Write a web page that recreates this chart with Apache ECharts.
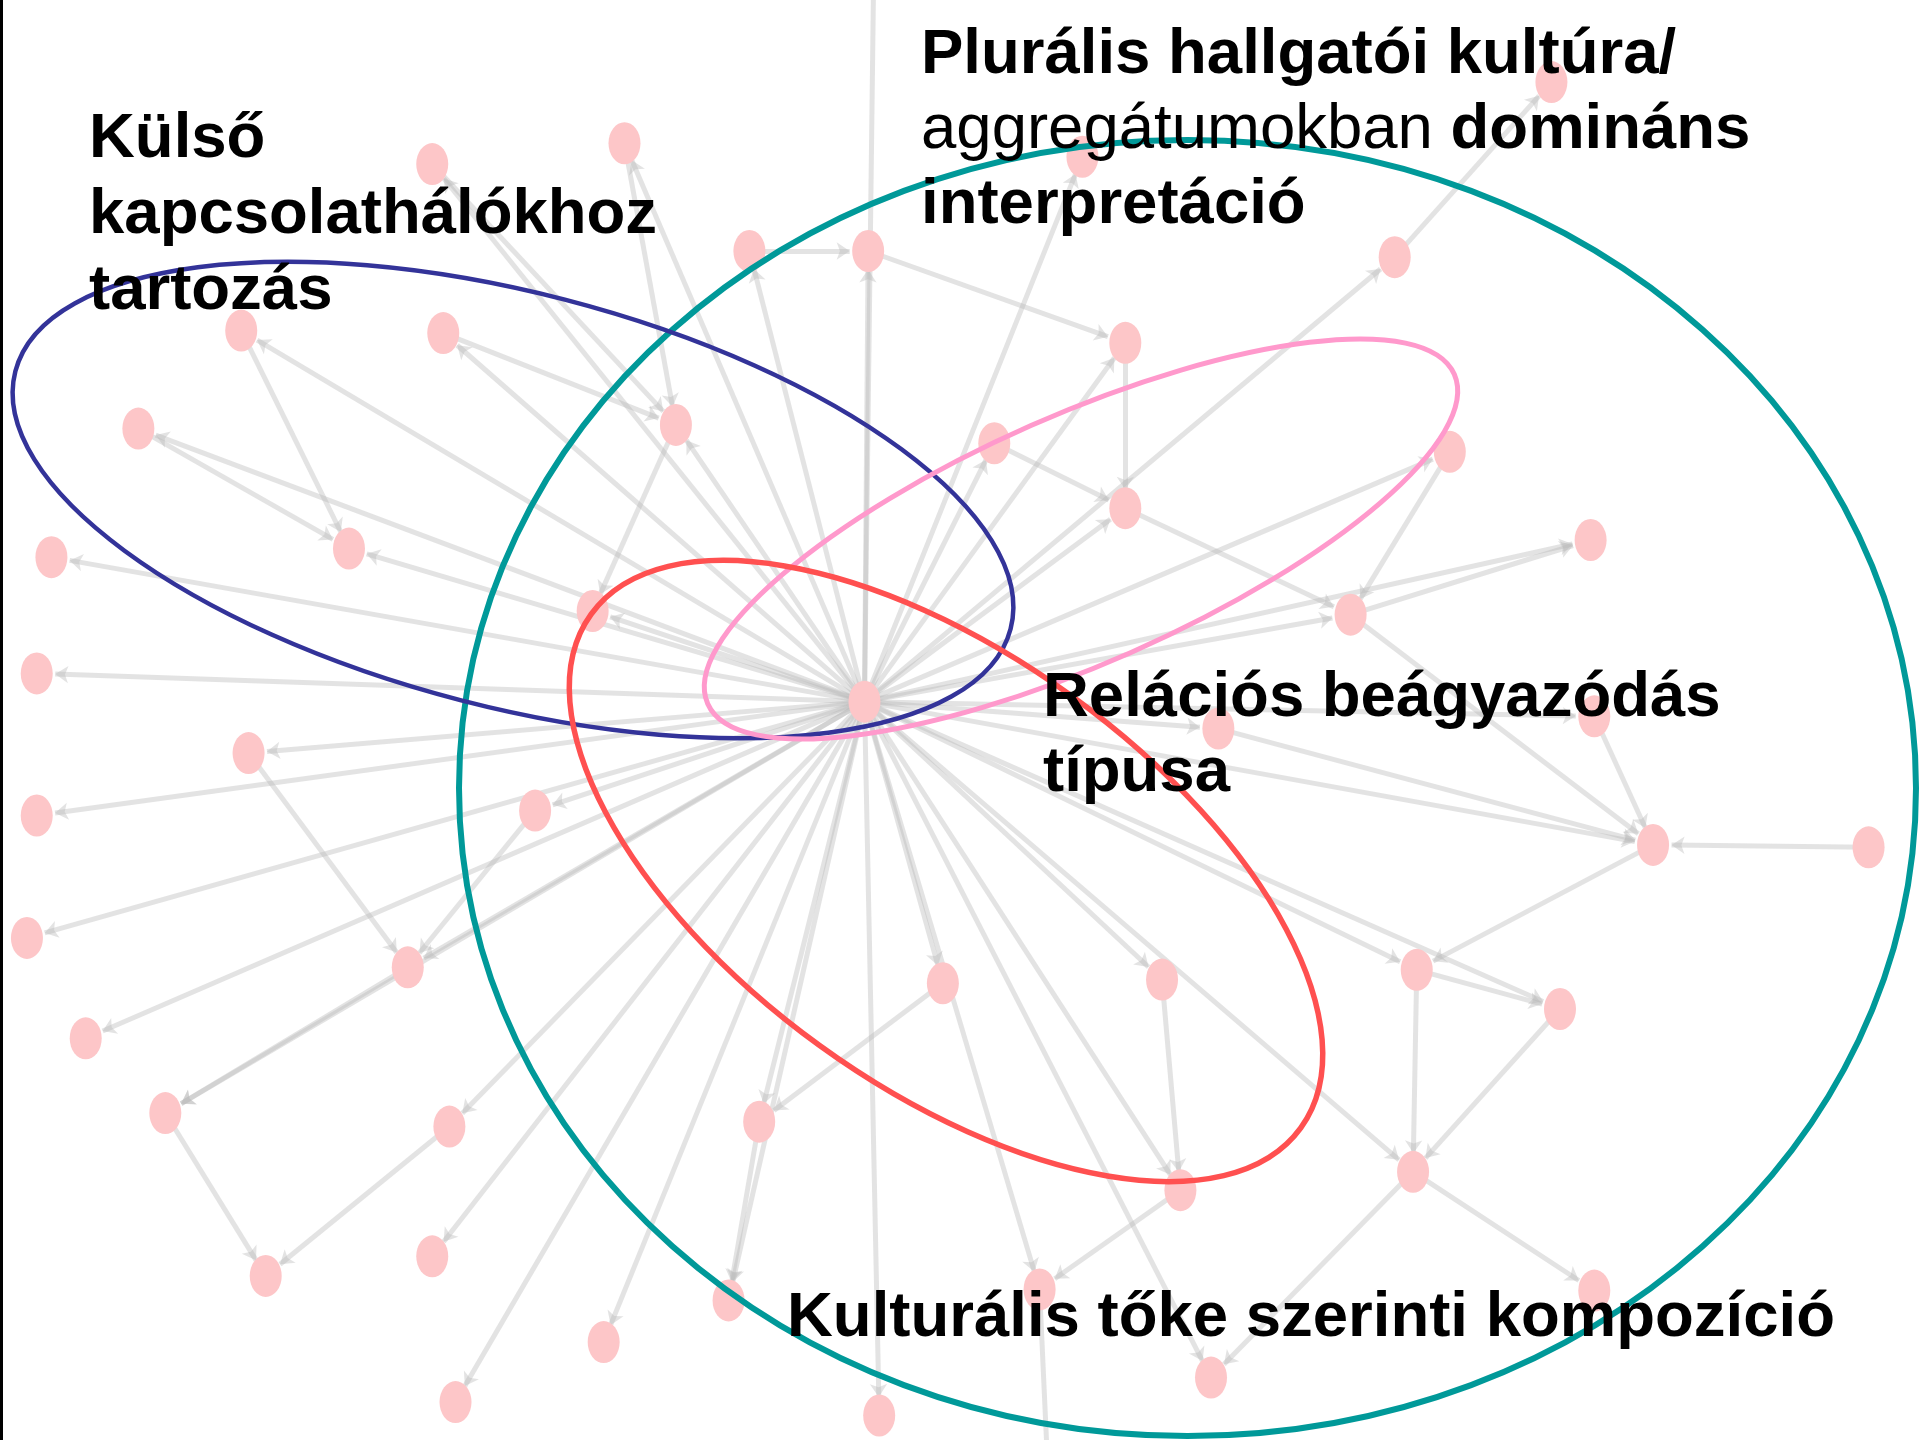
<!DOCTYPE html>
<html>
<head>
<meta charset="utf-8">
<script src="https://cdn.jsdelivr.net/npm/echarts@6/dist/echarts.min.js"></script>
<style>
html, body { margin: 0; padding: 0; background: #fff; }
#chart { width: 1920px; height: 1440px; }
</style>
</head>
<body>
<div id="chart"></div>
<script>
// node positions (picture units, 1568 x 1176); node 0 is the hub
const nodeX = [706, 510, 353, 612, 709, 884, 1267, 1139, 197, 362, 919, 113, 552, 812, 1184, 919, 42, 285, 1299, 484, 1103, 30, 995, 1302, 203, 30, 437, 1350, 1526, 22, 333, 770, 949, 1157, 1274, 70, 135, 367, 620, 964, 1154, 217, 353, 595, 849, 1302, 493, 989, 372, 718, 714, 858]
const nodeY = [573, 117, 134, 205, 205, 128, 67, 210, 270, 272, 280, 350, 347, 362, 369, 415, 455, 448, 441, 499, 502, 550, 595, 585, 615, 666, 662, 690, 692, 766, 790, 803, 800, 792, 824, 848, 909, 920, 916, 972, 957, 1042, 1026, 1062, 1053, 1054, 1096, 1125, 1145, 1156, -60, 1250]

// ties from the hub
const hubTargets = [1, 2, 3, 4, 5, 7, 8, 9, 10, 11, 12, 13, 14, 15, 16, 17, 18, 19, 20, 21, 22, 23, 24, 25, 26, 27, 29, 30, 31, 32, 33, 34, 35, 36, 37, 38, 39, 40, 42, 43, 44, 46, 47, 48, 49, 50]
// other ties
const edgeFrom = [7, 28, 36, 37, 24, 30, 33, 27, 33, 34, 40, 40, 4, 3, 11, 23, 13, 10, 31, 38, 32, 44, 22, 20, 20, 2, 9, 26, 39, 8, 1, 12, 15, 14]
const edgeTo = [6, 27, 41, 41, 30, 36, 40, 33, 34, 40, 45, 47, 10, 4, 17, 27, 15, 15, 38, 43, 39, 51, 27, 27, 18, 12, 12, 30, 44, 17, 12, 19, 20, 20]

const labelFont = '"Liberation Sans", Arial, sans-serif'
const labelSize = 63.5

const chart = echarts.init(document.getElementById('chart'))

const nodes = nodeX.map((x, i) => ({ name: 'n' + i, value: [x, nodeY[i]] }))
const links = hubTargets.map(t => ({ source: 0, target: t }))
edgeFrom.forEach((s, i) => links.push({ source: s, target: edgeTo[i] }))

const ellipse = (cx, cy, rx, ry, deg, color, width) => ({
  type: 'ellipse',
  x: cx,
  y: cy,
  rotation: deg * Math.PI / 180,
  shape: { cx: 0, cy: 0, rx: rx, ry: ry },
  style: { fill: null, stroke: color, lineWidth: width },
  z: 10,
  silent: true,
})

const label = (x, baseline, text) => ({
  type: 'text',
  x: x,
  y: baseline - 17,
  style: {
    text: text,
    font: 'bold ' + labelSize + 'px ' + labelFont,
    fill: '#000',
    verticalAlign: 'middle',
  },
  z: 20,
  silent: true,
})

chart.setOption({
  animation: false,
  backgroundColor: '#fff',
  grid: { left: 0, right: 0, top: 0, bottom: 0 },
  xAxis: { type: 'value', min: 0, max: 1568, show: false },
  yAxis: { type: 'value', min: 0, max: 1176, inverse: true, show: false },
  series: [
    {
      type: 'graph',
      coordinateSystem: 'cartesian2d',
      layout: 'none',
      silent: true,
      symbol: 'circle',
      symbolSize: [32, 42],
      itemStyle: { color: '#fdc6c8' },
      edgeSymbol: ['none', 'arrow'],
      edgeSymbolSize: 13,
      lineStyle: { color: 'rgba(185,185,185,0.4)', width: 5, opacity: 1 },
      label: { show: false },
      data: nodes,
      links: links,
    },
  ],
  graphic: [
    { type: 'rect', shape: { x: 0, y: 0, width: 3, height: 1440 }, style: { fill: '#000' }, z: 30 },
    ellipse(1187.5, 788, 728.5, 648, 0, '#009999', 6),
    ellipse(513, 500, 514, 207, -14.5, '#333399', 4.5),
    ellipse(1081, 539, 408, 124, 23.8, '#ff99cc', 5),
    ellipse(946, 871, 438, 215.5, -35.9, '#ff5050', 5.5),
    label(89, 156, 'Külső'),
    label(89, 232, 'kapcsolathálókhoz'),
    label(89, 308, 'tartozás'),
    label(921, 72, 'Plurális hallgatói kultúra/'),
    {
      type: 'text',
      x: 921,
      y: 147 - 17,
      style: {
        text: '{r|aggregátumokban} {b|domináns}',
        font: 'bold ' + labelSize + 'px ' + labelFont,
        fill: '#000',
        verticalAlign: 'middle',
        rich: {
          r: { font: 'normal ' + labelSize + 'px ' + labelFont, fill: '#000' },
          b: { font: 'bold ' + labelSize + 'px ' + labelFont, fill: '#000' },
        },
      },
      z: 20,
      silent: true,
    },
    label(921, 222, 'interpretáció'),
    label(1043, 715, 'Relációs beágyazódás'),
    label(1043, 790, 'típusa'),
    label(787, 1335, 'Kulturális tőke szerinti kompozíció'),
  ],
})
</script>
</body>
</html>
